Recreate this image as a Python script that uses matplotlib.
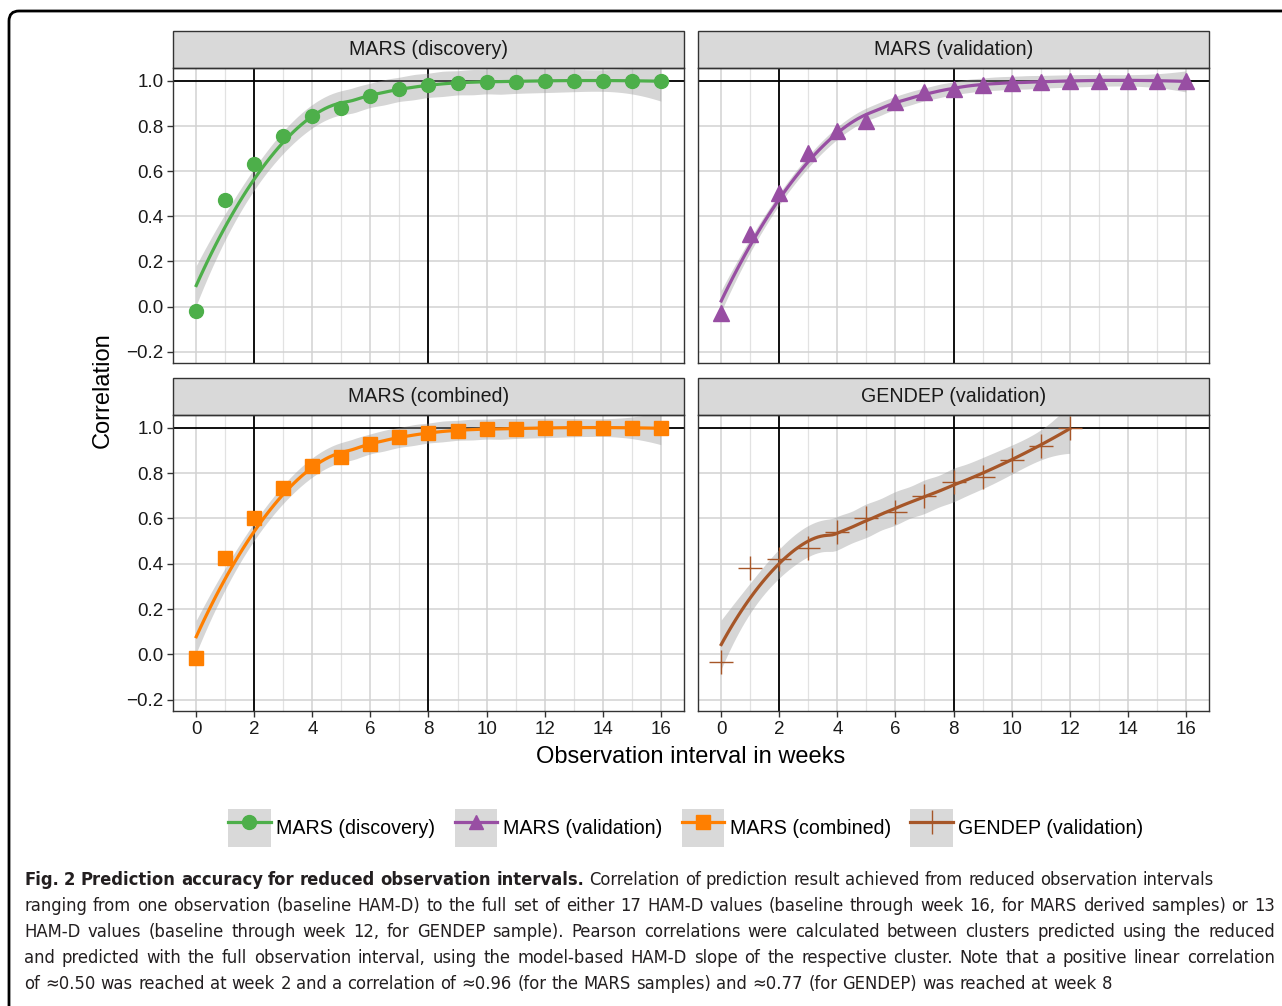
import numpy as np
import matplotlib.pyplot as plt
from matplotlib.patches import FancyBboxPatch, Patch, Rectangle
from matplotlib.lines import Line2D

plt.rcParams['font.family'] = ['Liberation Sans', 'DejaVu Sans']
plt.rcParams['axes.unicode_minus'] = True

# data
weeks = np.arange(17)
weeks_gendep = np.arange(13)

mars_discovery = [-0.02, 0.47, 0.63, 0.755, 0.845, 0.88, 0.935, 0.965, 0.98, 0.99,
                  0.995, 0.997, 0.998, 0.999, 1.0, 1.0, 1.0]
mars_validation = [-0.03, 0.32, 0.505, 0.68, 0.78, 0.82, 0.905, 0.95, 0.962, 0.983,
                   0.99, 0.995, 0.998, 0.999, 1.0, 1.0, 1.0]
mars_combined = [-0.015, 0.425, 0.60, 0.735, 0.83, 0.87, 0.928, 0.96, 0.978, 0.988,
                 0.993, 0.996, 0.998, 0.999, 1.0, 1.0, 1.0]
gendep_validation = [-0.035, 0.38, 0.42, 0.47, 0.54, 0.60, 0.63, 0.70, 0.76, 0.785,
                     0.86, 0.92, 1.0]

titles = ['MARS (discovery)', 'MARS (validation)', 'MARS (combined)', 'GENDEP (validation)']
colors = ['#4DAF4A', '#984EA3', '#FF7F00', '#A65628']
markers = ['o', '^', 's', '+']
series = [(weeks, mars_discovery), (weeks, mars_validation),
          (weeks, mars_combined), (weeks_gendep, gendep_validation)]

yticks = [-0.2, 0.0, 0.2, 0.4, 0.6, 0.8, 1.0]
xticks = [0, 2, 4, 6, 8, 10, 12, 14, 16]


def loess(x, y, grid, span=0.75):
    # local quadratic fit with tricube weights (like geom_smooth default)
    x = np.asarray(x, float)
    y = np.asarray(y, float)
    n = len(x)
    q = int(np.floor(n * span))

    def row(x0):
        d = np.abs(x - x0)
        h = np.sort(d)[q - 1] * 1.0001
        w = np.clip(1 - (d / h) ** 3, 0, None) ** 3
        X = np.column_stack([np.ones(n), x - x0, (x - x0) ** 2])
        XtW = X.T * w
        return np.linalg.solve(XtW @ X, XtW)[0]

    L = np.array([row(v) for v in x])
    G = np.array([row(v) for v in grid])
    res = y - L @ y
    I = np.eye(n)
    d1 = np.trace((I - L).T @ (I - L))
    sigma = np.sqrt(np.sum(res ** 2) / d1)
    return G @ y, sigma * np.sqrt(np.sum(G ** 2, axis=1))


W, H = 1282, 1006
fig = plt.figure(figsize=(W / 100, H / 100), dpi=100)

col_x = [(173, 684), (698, 1209)]
row_y = [(68, 363), (415, 711)]
strip_h = 37

for i, (title, c, m, (x, y)) in enumerate(zip(titles, colors, markers, series)):
    r, k = divmod(i, 2)
    x0, x1 = col_x[k]
    y0, y1 = row_y[r]
    ax = fig.add_axes([x0 / W, 1 - y1 / H, (x1 - x0) / W, (y1 - y0) / H])
    ax.set_xlim(-0.8, 16.8)
    ax.set_ylim(-0.25, 1.057)

    # grid
    for g in range(17):
        ax.axvline(g, color='#d2d2d2' if g % 2 == 0 else '#e2e2e2',
                   lw=1.1 if g % 2 == 0 else 0.9, zorder=0)
    for g in yticks:
        ax.axhline(g, color='#d2d2d2', lw=1.1, zorder=0)
    ax.axvline(2, color='black', lw=1.3, zorder=1)
    ax.axvline(8, color='black', lw=1.3, zorder=1)
    ax.axhline(1.0, color='black', lw=1.3, zorder=1)

    grid = np.linspace(min(x), max(x), 120)
    fit, se = loess(x, y, grid)
    ax.fill_between(grid, fit - 2.1 * se, fit + 2.1 * se, color='#999999',
                    alpha=0.4, lw=0, zorder=2)
    ax.plot(grid, fit, color=c, lw=2.3, zorder=3)
    if m == '+':
        ax.plot(x, y, ls='none', marker=m, ms=17, mew=1.0, color=c, zorder=4)
    else:
        ax.plot(x, y, ls='none', marker=m, ms=10 if m != '^' else 11, color=c,
                mec=c, zorder=4)

    for s in ax.spines.values():
        s.set_color('#333333')
        s.set_linewidth(1.0)
    ax.set_xticks(xticks)
    ax.set_yticks(yticks)
    ax.tick_params(length=4, width=1, color='#333333', labelsize=13.5,
                   labelcolor='#1a1a1a', pad=3)
    if k == 1:
        ax.tick_params(axis='y', left=False, labelleft=False)
    else:
        ax.set_yticklabels([f'{v:.1f}'.replace('-', '\u2212') for v in yticks])
    if r == 0:
        ax.tick_params(axis='x', bottom=False, labelbottom=False)

    # facet strip
    sh = strip_h / (y1 - y0)
    ax.add_patch(Rectangle((0, 1), 1, sh, transform=ax.transAxes, clip_on=False,
                           fc='#d9d9d9', ec='#333333', lw=1.0))
    ax.text(0.5, 1 + sh / 2, title, transform=ax.transAxes, ha='center',
            va='center', fontsize=14.1, color='#1a1a1a')

fig.text(103 / W, 1 - 390 / H, 'Correlation', rotation=90, ha='center',
         va='center', fontsize=17)
fig.text(691 / W, 1 - 757 / H, 'Observation interval in weeks', ha='center',
         va='center', fontsize=17)

handles = []
for c, m in zip(colors, markers):
    ln = Line2D([], [], color=c, lw=2.3, marker=m,
                ms=17 if m == '+' else 10, mew=1.0 if m == '+' else 1)
    handles.append((Patch(fc='#d9d9d9', ec='none'), ln))
fig.legend(handles, titles, loc='center', bbox_to_anchor=(686 / W, 1 - 828 / H),
           ncol=4, frameon=False, fontsize=14.1, handlelength=2.15,
           handleheight=2.55, handletextpad=0.3, columnspacing=1.0)

# border around the figure
fig.patches.append(FancyBboxPatch((0.09, -0.3), 13.5, 9.95 + 0.3, transform=fig.dpi_scale_trans,
                                  boxstyle='round,pad=0,rounding_size=0.1',
                                  fc='none', ec='black', lw=2.0))

# caption
caption = [
    ([("Fig. 2 Prediction accuracy for reduced observation intervals.", 'bold'),
      ("Correlation of prediction result achieved from reduced observation intervals", 'normal')], False),
    ([("ranging from one observation (baseline HAM-D) to the full set of either 17 HAM-D values "
       "(baseline through week 16, for MARS derived samples) or 13", 'normal')], True),
    ([("HAM-D values (baseline through week 12, for GENDEP sample). Pearson correlations were "
       "calculated between clusters predicted using the reduced", 'normal')], True),
    ([("and predicted with the full observation interval, using the model-based HAM-D slope of "
       "the respective cluster. Note that a positive linear correlation", 'normal')], True),
    ([("of \u22480.50 was reached at week 2 and a correlation of \u22480.96 (for the MARS samples) "
       "and \u22480.77 (for GENDEP) was reached at week 8", 'normal')], False),
]
cap_font = ['DejaVu Sans']
left, right = 24, 1275
renderer = fig.canvas.get_renderer()


def natural_width(size):
    widest = 0
    for segs, _ in caption:
        w = 0
        for s, wt in segs:
            t = fig.text(0, 0, s, fontsize=size, family=cap_font,
                         fontstretch='condensed', fontweight=wt)
            w += t.get_window_extent(renderer).width
            t.remove()
        widest = max(widest, w)
    return widest


cap_size = 14.0
nw = natural_width(cap_size)
if nw > (right - left) * 0.995:
    cap_size *= (right - left) * 0.995 / nw

sp = fig.text(0, 0, 'a a', fontsize=cap_size, family=cap_font, fontstretch='condensed')
sp2 = fig.text(0, 0, 'aa', fontsize=cap_size, family=cap_font, fontstretch='condensed')
space = sp.get_window_extent(renderer).width - sp2.get_window_extent(renderer).width
sp.remove()
sp2.remove()
for j, (segs, justify) in enumerate(caption):
    yy = 1 - (880 + 26 * j) / H
    words = [(w, wt) for s, wt in segs for w in s.split(' ')]
    texts = [fig.text(0, yy, w, fontsize=cap_size, family=cap_font, fontweight=wt,
                      fontstretch='condensed', va='center', ha='left',
                      color='#231f20') for w, wt in words]
    widths = [t.get_window_extent(renderer).width for t in texts]
    gap = (right - left - sum(widths)) / (len(words) - 1) if justify else space
    xx = left
    for t, wd in zip(texts, widths):
        t.set_x(xx / W)
        xx += wd + gap

fig.savefig('out.png', dpi=100)
